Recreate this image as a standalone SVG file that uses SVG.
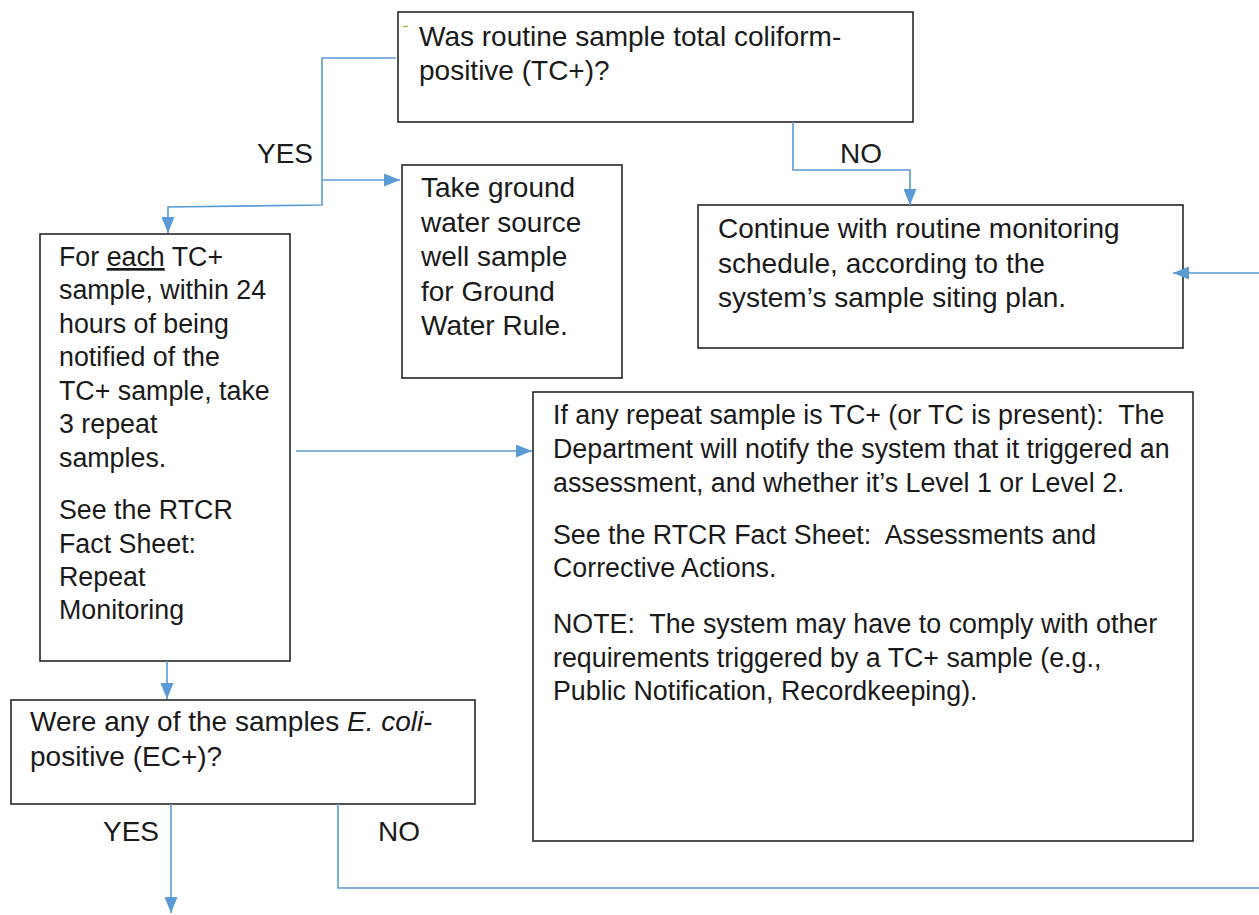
<svg xmlns="http://www.w3.org/2000/svg" width="1259" height="915" viewBox="0 0 1259 915">
<style>
.box{fill:#fff;stroke:#262626;stroke-width:1.6}
.t{font-family:"Liberation Sans",Arial,sans-serif;font-size:28px;fill:#1a1a1a}
.s{font-size:26.8px}
.c{fill:none;stroke:#5B9BD5;stroke-width:1.6}
</style>
<defs>
<marker id="ah" viewBox="0 0 16 13" refX="16" refY="6.5" markerWidth="16" markerHeight="13" markerUnits="userSpaceOnUse" orient="auto">
<path d="M0,0 L16,6.5 L0,13 z" fill="#5B9BD5"/>
</marker>
</defs>
<rect width="1259" height="915" fill="#fff"/>
<g id="q1">
<rect class="box" x="398" y="12" width="515" height="110"/>
<path d="M403,27 L408,26" stroke="#a0a000" stroke-width="1"/>
<text class="t" x="419" y="46">Was routine sample total coliform-</text>
<text class="t" x="419" y="80">positive (TC+)?</text>
</g>
<g id="gw">
<rect class="box" x="402" y="165" width="220" height="213"/>
<text class="t" x="421" y="197">Take ground</text>
<text class="t" x="421" y="232">water source</text>
<text class="t" x="421" y="266">well sample</text>
<text class="t" x="421" y="301">for Ground</text>
<text class="t" x="421" y="335">Water Rule.</text>
</g>
<g id="continue">
<rect class="box" x="698" y="205" width="485" height="143"/>
<text class="t" x="718" y="238">Continue with routine monitoring</text>
<text class="t" x="718" y="273">schedule, according to the</text>
<text class="t" x="718" y="307">system’s sample siting plan.</text>
</g>
<g id="repeat">
<rect class="box" x="40" y="234" width="250" height="427"/>
<text class="t s" x="59" y="266">For <tspan text-decoration="underline">each</tspan> TC+</text>
<text class="t s" x="59" y="299">sample, within 24</text>
<text class="t s" x="59" y="333">hours of being</text>
<text class="t s" x="59" y="366">notified of the</text>
<text class="t s" x="59" y="400">TC+ sample, take</text>
<text class="t s" x="59" y="433">3 repeat</text>
<text class="t s" x="59" y="467">samples.</text>
<text class="t s" x="59" y="519">See the RTCR</text>
<text class="t s" x="59" y="553">Fact Sheet:</text>
<text class="t s" x="59" y="586">Repeat</text>
<text class="t s" x="59" y="619">Monitoring</text>
</g>
<g id="assess">
<rect class="box" x="533" y="392" width="660" height="449"/>
<text class="t s" x="553" y="424" xml:space="preserve">If any repeat sample is TC+ (or TC is present):  The</text>
<text class="t s" x="553" y="458">Department will notify the system that it triggered an</text>
<text class="t s" x="553" y="492">assessment, and whether it’s Level 1 or Level 2.</text>
<text class="t s" x="553" y="544" xml:space="preserve">See the RTCR Fact Sheet:  Assessments and</text>
<text class="t s" x="553" y="577">Corrective Actions.</text>
<text class="t s" x="553" y="633" xml:space="preserve">NOTE:  The system may have to comply with other</text>
<text class="t s" x="553" y="667">requirements triggered by a TC+ sample (e.g.,</text>
<text class="t s" x="553" y="700">Public Notification, Recordkeeping).</text>
</g>
<g id="q2">
<rect class="box" x="11" y="700" width="464" height="104"/>
<text class="t" x="30" y="731">Were any of the samples <tspan font-style="italic">E. coli</tspan>-</text>
<text class="t" x="30" y="766">positive (EC+)?</text>
</g>
<g id="labels">
<text class="t" x="257" y="163" font-size="27.5">YES</text>
<text class="t" x="840" y="163">NO</text>
<text class="t" x="103" y="841" font-size="27.5">YES</text>
<text class="t" x="378" y="841">NO</text>
</g>
<g id="connectors">
<path class="c" d="M396,58 H322 V205 L168,207 V233" marker-end="url(#ah)"/>
<path class="c" d="M322,180 H400" marker-end="url(#ah)"/>
<path class="c" d="M793,122 V170 H910 V205" marker-end="url(#ah)"/>
<path class="c" d="M1259,273 H1173" marker-end="url(#ah)"/>
<path class="c" d="M296,451 H532" marker-end="url(#ah)"/>
<path class="c" d="M167,661 V699" marker-end="url(#ah)"/>
<path class="c" d="M171,804 V913" marker-end="url(#ah)"/>
<path class="c" d="M338,804 V888 H1259"/>
</g>
</svg>
